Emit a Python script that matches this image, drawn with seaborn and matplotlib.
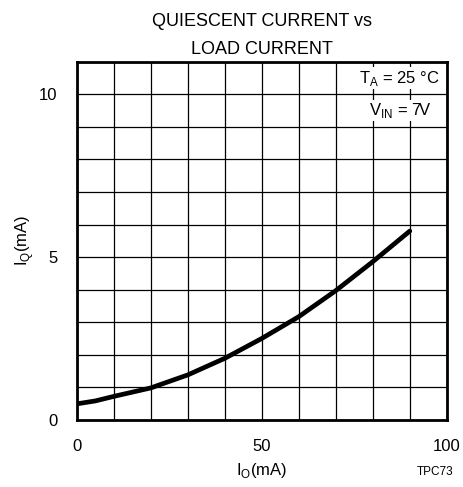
import numpy as np
import pandas as pd
import matplotlib.pyplot as plt
import seaborn as sns

load_ma = [0, 5, 10, 20, 30, 40, 50, 60, 70, 80, 90]
iq_ma = [0.49, 0.58, 0.72, 0.98, 1.38, 1.89, 2.5, 3.17, 3.97, 4.86, 5.8]

xticks = list(range(0, 101, 10))
xlabels = ["0", "", "", "", "", "50", "", "", "", "", "100"]
yticks = list(range(0, 12))
ylabels = ["0", "", "", "", "", "5", "", "", "", "", "10", ""]

sns.set_style("white")
plt.rcParams['font.family'] = ['Liberation Sans', 'DejaVu Sans']
plt.rcParams['text.color'] = 'black'
plt.rcParams['axes.labelcolor'] = 'black'
plt.rcParams['xtick.color'] = 'black'
plt.rcParams['ytick.color'] = 'black'

df = pd.DataFrame({"IO": load_ma, "IQ": iq_ma})

fig = plt.figure(figsize=(4.63, 4.87), dpi=100)
ax = fig.add_axes([0.166, 0.138, 0.799, 0.735])
sns.lineplot(data=df, x="IO", y="IQ", ax=ax, color="black", linewidth=3.4)

ax.set_xlim(0, 100)
ax.set_ylim(0, 11)
ax.set_xticks(xticks)
ax.set_xticklabels(xlabels, fontsize=12)
ax.set_yticks(yticks)
ax.set_yticklabels(ylabels, fontsize=12)
ax.tick_params(length=0, pad=14)
ax.grid(True, color="black", linewidth=0.9)
for s in ax.spines.values():
    s.set_linewidth(2)
    s.set_color("black")

ax.set_xlabel("I$_\\mathregular{O}$(mA)", fontsize=12, labelpad=5)
ax.set_ylabel("I$_\\mathregular{Q}$(mA)", fontsize=12, labelpad=2)
ax.set_title("QUIESCENT CURRENT vs\nLOAD CURRENT", fontsize=13, linespacing=1.8, pad=6)

ax.text(98, 10.5, "T$_\\mathregular{A}$ = 25 °C", ha="right", va="center", fontsize=12,
        bbox=dict(facecolor="white", edgecolor="none", pad=1))
ax.text(96, 9.5, "V$_\\mathregular{IN}$ = 7V", ha="right", va="center", fontsize=12,
        bbox=dict(facecolor="white", edgecolor="none", pad=1))

fig.text(0.94, 0.03, "TPC73", fontsize=8.5, ha="center", va="center")

fig.savefig("out.png", dpi=100)
